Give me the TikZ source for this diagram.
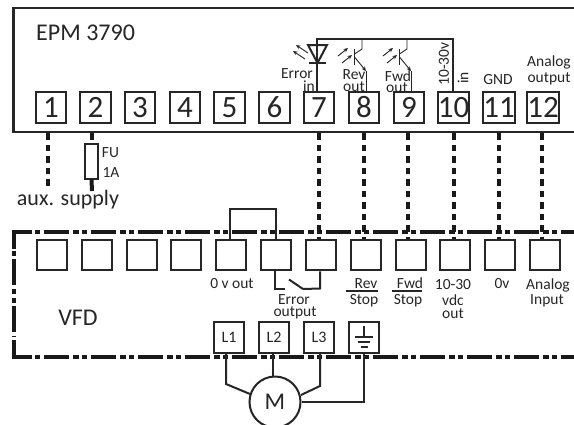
\documentclass[tikz,border=0pt]{standalone}
\usepackage{fontspec}
\setmainfont{Carlito}
\usetikzlibrary{arrows.meta}
\tikzset{
  x=1pt,y=-1pt,
  frameline/.style={line width=2.4pt,draw=black!85},
  termbox/.style={draw=black!85,line width=2pt,minimum width=30.5pt,minimum height=30.5pt,inner sep=0pt,fill=white},
  ldot/.style={line width=4pt,draw=black!90,dash pattern=on 6.5pt off 5pt},
  wire/.style={line width=2pt,draw=black!85},
  thin wire/.style={line width=0.9pt,draw=black!85},
  dashfr/.style={line width=3.6pt,draw=black!90,dash pattern=on 25.5pt off 4pt on 5.5pt off 3.5pt on 5pt off 3.5pt},
  lab/.style={inner sep=0pt,font=\fontsize{15.5}{15.5}\selectfont,text=black!85},
  biglab/.style={inner sep=0pt,font=\fontsize{24}{24}\selectfont,text=black!85},
  num/.style={font=\fontsize{31}{31}\selectfont,text=black!85},
  arr/.style={thin wire,-{Stealth[length=4.5pt,width=4pt]}}
}
\begin{document}
\begin{tikzpicture}
\useasboundingbox (0,0) rectangle (574,424);
\fill[white] (0,0) rectangle (574,424);
% upper frame
\draw[frameline] (574,8) -- (13.5,8) -- (13.5,132) -- (574,132);
\node[biglab,anchor=west] (title) at (36,33) {EPM 3790};
% upper wiring
\coordinate (ta) at (317,39); \coordinate (tb) at (453,39);
\foreach \n/\x in {1/51,2/95.5,3/140,4/185,5/229.5,6/274.5,7/319,8/364,9/409,10/453.5,11/499,12/543}{
  \node[termbox,num] (u\n) at (\x,107.5) {\n};
}
\draw[wire] (u7.north -| ta) -- (ta) -- (tb) -- (u10.north -| tb);
% LED
\coordinate (lf) at (308,45);\coordinate (lg) at (327,45);\coordinate (lt) at (317.5,63);
\draw[wire] (lf) -- (lg) -- (lt) -- cycle;
\coordinate (bl) at (309,63);\coordinate (br) at (326,63);
\draw[wire] (bl) -- (br);
\coordinate (a1) at (308,53);\coordinate (a2) at (296,45);\coordinate (a3) at (305,59);\coordinate (a4) at (293,51);
\draw[arr] (a1) -- (a2);
\draw[arr] (a3) -- (a4);
% phototransistors
\foreach \d/\t in {0/r,45/f}{
  \coordinate (\t c) at ({362+\d},39);\coordinate (\t k) at ({362+\d},49);
  \coordinate (\t b1) at ({354.5+\d},49);\coordinate (\t b2) at ({354.5+\d},65);
  \coordinate (\t e) at ({354.5+\d},57);\coordinate (\t s) at ({366+\d},71);
  \coordinate (\t u) at ({366+\d},92);\coordinate (\t m) at ({354.5+\d},54);
  \draw[thin wire] (\t c) -- (\t k) -- (\t m);
  \draw[line width=1.3pt,draw=black!85] (\t b1) -- (\t b2);
  \draw[arr] (\t e) -- (\t s);
  \draw[thin wire] (\t s) -- (\t u);
  \coordinate (\t a1) at ({338+\d},56);\coordinate (\t a2) at ({348+\d},48);
  \coordinate (\t a3) at ({342+\d},63);\coordinate (\t a4) at ({352+\d},55);
  \draw[arr] (\t a1) -- (\t a2);
  \draw[arr] (\t a3) -- (\t a4);
}
\node[lab] (lerr) at (297,74) {Error};
\node[lab] (lin) at (309,86.5) {in};
\node[lab] (lrev) at (354,75) {Rev};
\node[lab] (lrevo) at (354,87) {out};
\node[lab] (lfwd) at (398,76) {Fwd};
\node[lab] (lfwdo) at (397,88) {out};
\node[lab,rotate=90] (l1030) at (444,64) {10-30v};
\node[lab,rotate=90] (lin2) at (463,78) {in};
\node[lab] (lgnd) at (498,80) {GND};
\node[lab] (lana) at (549,62) {Analog};
\node[lab] (lout) at (549,79) {output};
% aux
\coordinate (aux) at (48,187);\coordinate (fb) at (92,191);\coordinate (auxt) at (48,133);
\coordinate (ft) at (92,133);\coordinate (fm) at (92,140);
\node[draw=black!85,line width=2pt,minimum width=12.5pt,minimum height=35pt,inner sep=0pt] (fuse) at (91.5,161) {};
\draw[ldot] (auxt) -- (aux);
\draw[line width=4pt,draw=black!90] (ft) -- (fm);
\draw[line width=4pt,draw=black!90] (fuse.south) -- (fb);
\node[lab] (fu) at (110.5,153) {FU};
\node[lab] (a1lab) at (111,173) {1A};
\node[lab,font=\fontsize{22}{22}\selectfont] (auxl) at (68,200) {aux. supply};
% lower frame
\draw[line width=3.6pt,draw=black!90] (32,232) -- (14,232) -- (14,249);
\draw[line width=3.6pt,draw=black!90] (14,340) -- (14,357) -- (32,357);
\draw[dashfr,dash phase=38.5pt] (35,232) -- (574,232);
\draw[dashfr,dash phase=38.5pt] (35,357) -- (574,357);
\draw[dashfr,dash phase=38.5pt] (14,250.5) -- (14,336);
% lower terminals
\foreach \n/\x in {1/52,2/97,3/142,4/186,5/231,6/276,7/321,8/366,9/411,10/455,11/500,12/545}{
  \node[termbox] (d\n) at (\x,255) {};
}
% connecting dotted
\foreach \n/\x in {7/319,8/364,9/408,10/454,11/499,12/542}{
  \draw[ldot] (\x,133) -- (\x,239);
}
\coordinate (j1) at (230,209);\coordinate (j2) at (276,209);
\draw[wire] (d5.north -| j1) -- (j1) -- (j2) -- (d6.north);
% error contact
\coordinate (s1) at (275,288.5);\coordinate (s2) at (285,288.5);\coordinate (s3) at (289,279.5);\coordinate (s4) at (303,289);\coordinate (s5) at (320,288.5);
\draw[wire] (s1 |- d6.south) -- (s1) -- (s2);
\draw[wire] (s3) -- (s4);
\draw[wire] (s4) -- (s5) -- (s5 |- d7.south);
\node[lab] (l0v) at (232,284) {0 v out};
\node[lab] (lrev2) at (366,283.5) {Rev};
\node[lab] (lfwd2) at (410,283.5) {Fwd};
\coordinate (ua) at (346,291);\coordinate (ub) at (378,291);\coordinate (uc) at (392,291);\coordinate (ud) at (422,291);
\draw[wire] (ua) -- (ub);
\draw[wire] (uc) -- (ud);
\node[lab] (ls1) at (364,301) {Stop};
\node[lab] (ls2) at (408,301) {Stop};
\node[lab] (l10) at (453,285) {10-30};
\node[lab] (lv) at (453,300) {vdc};
\node[lab] (lo) at (453,314) {out};
\node[lab] (l0) at (502,284) {0v};
\node[lab] (lai) at (548,285) {Analog};
\node[lab] (lin3) at (547,301) {Input};
\node[lab] (leo) at (294,299.5) {Error};
\node[lab] (leo2) at (295,312.5) {output};
\node[biglab] (vfd) at (78,318) {VFD};
% L boxes
\foreach \n/\t/\x in {a/L1/229,b/L2/274,c/L3/319}{
  \node[termbox,font=\fontsize{16}{16}\selectfont,text=black!85] (\n) at (\x,337.5) {\t};
}
\node[termbox] (g) at (364,337.5) {};
\coordinate (g1) at (364,326);\coordinate (g2) at (364,337);
\draw[wire] (g1) -- (g2);
\coordinate (h1) at (355,337);\coordinate (h2) at (373,337);
\coordinate (h3) at (358,342);\coordinate (h4) at (370,342);
\coordinate (h5) at (360.5,347);\coordinate (h6) at (367.5,347);
\draw[wire] (h1) -- (h2);
\draw[wire] (h3) -- (h4);
\draw[wire] (h5) -- (h6);
% motor
\node[draw=black!85,line width=2pt,circle,minimum size=51pt,inner sep=0pt,font=\fontsize{24}{24}\selectfont,text=black!85,fill=white] (m) at (275,402) {M};
\coordinate (ma0) at (226,353);\coordinate (ma) at (226,384);\coordinate (mae) at (250,394);
\coordinate (mb0) at (273,353);\coordinate (mbe) at (273,377);
\coordinate (mc0) at (320,353);\coordinate (mb) at (320,386);\coordinate (mce) at (301,395);
\coordinate (mc) at (364,402);
\draw[wire] (ma0) -- (ma) -- (mae);
\draw[wire] (mb0) -- (mbe);
\draw[wire] (mc0) -- (mb) -- (mce);
\draw[wire] (g.south) -- (mc) -- (m.east);
\end{tikzpicture}
\end{document}
